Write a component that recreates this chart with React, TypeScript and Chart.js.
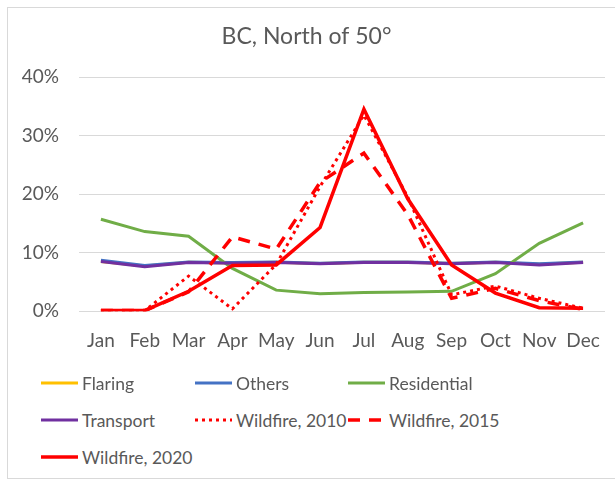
import React, { useEffect, useRef } from "react";
import { Chart, registerables } from "chart.js";

Chart.register(...registerables);

const months = ["Jan", "Feb", "Mar", "Apr", "May", "Jun", "Jul", "Aug", "Sep", "Oct", "Nov", "Dec"];
const yTicks = [0, 10, 20, 30, 40];

const flaring = [8.5, 7.7, 8.35, 8.25, 8.35, 8.15, 8.35, 8.35, 8.15, 8.35, 8.0, 8.35];
const others = [8.7, 7.8, 8.4, 8.3, 8.4, 8.2, 8.4, 8.4, 8.2, 8.4, 8.1, 8.4];
const residential = [15.7, 13.6, 12.8, 7.3, 3.6, 3.0, 3.2, 3.3, 3.4, 6.4, 11.6, 15.1];
const transport = [8.5, 7.6, 8.3, 8.2, 8.3, 8.1, 8.3, 8.3, 8.1, 8.3, 7.9, 8.3];
const wildfire2010 = [0.1, 0.1, 6.0, 0.4, 8.0, 21.3, 33.5, 19.5, 2.8, 4.3, 2.2, 0.5];
const wildfire2015 = [0.1, 0.1, 3.3, 12.7, 10.6, 22.0, 27.0, 16.5, 2.2, 3.9, 1.8, 0.3];
const wildfire2020 = [0.1, 0.1, 3.4, 7.8, 7.9, 14.3, 34.5, 19.2, 7.9, 3.1, 0.6, 0.5];

const FONT = "Lato";
const TEXT = "#595959";

type Series = { label: string; data: number[]; color: string; width: number; dash: number[] };

const series: Series[] = [
  { label: "Flaring", data: flaring, color: "#FFC000", width: 3, dash: [] },
  { label: "Others", data: others, color: "#4472C4", width: 3, dash: [] },
  { label: "Residential", data: residential, color: "#70AD47", width: 3, dash: [] },
  { label: "Transport", data: transport, color: "#7030A0", width: 3, dash: [] },
  { label: "Wildfire, 2010", data: wildfire2010, color: "#FF0000", width: 3, dash: [3, 4] },
  { label: "Wildfire, 2015", data: wildfire2015, color: "#FF0000", width: 3.5, dash: [12, 9] },
  { label: "Wildfire, 2020", data: wildfire2020, color: "#FF0000", width: 3.5, dash: [] },
];

const legendCols = [33, 187, 340];
const legendRows = [375, 412, 449];

export default function App() {
  const ref = useRef<HTMLCanvasElement | null>(null);

  useEffect(() => {
    if (!ref.current) return;
    const chart = new Chart(ref.current, {
      type: "line",
      data: {
        labels: months,
        datasets: series.map((s, i) => ({
          label: s.label,
          data: s.data,
          borderColor: s.color,
          backgroundColor: s.color,
          borderWidth: s.width,
          borderDash: s.dash,
          pointRadius: 0,
          tension: 0,
          fill: false,
          order: series.length - i,
        })),
      },
      options: {
        responsive: false,
        animation: false,
        layout: { padding: { left: 0, right: 17, top: 0, bottom: 8 } },
        plugins: {
          legend: { display: false },
          tooltip: { enabled: false },
          title: {
            display: true,
            text: "BC, North of 50°",
            color: TEXT,
            font: { family: FONT, size: 23, weight: "normal" },
            padding: { top: 15, bottom: 26.4 },
          },
        },
        scales: {
          x: {
            offset: true,
            grid: { display: false, drawTicks: false },
            border: { display: false },
            ticks: {
              color: TEXT,
              font: { family: FONT, size: 19 },
              padding: 18,
              maxRotation: 0,
              autoSkip: false,
            },
          },
          y: {
            min: 0,
            max: 40,
            afterFit: (s: any) => {
              s.width = 71;
            },
            afterBuildTicks: (s: any) => {
              s.ticks = yTicks.map((v) => ({ value: v }));
            },
            grid: { color: "#d9d9d9", lineWidth: 1, drawTicks: false },
            border: { display: false },
            ticks: {
              color: TEXT,
              font: { family: FONT, size: 19 },
              padding: 20,
              callback: (v: any) => v + "%",
            },
          },
        },
      },
    });
    return () => chart.destroy();
  }, []);

  return (
    <div
      style={{
        position: "fixed",
        left: 7,
        top: 7,
        width: 640,
        height: 472,
        boxSizing: "border-box",
        border: "1px solid #d9d9d9",
        background: "#fff",
      }}
    >
      <canvas ref={ref} width={614} height={370} style={{ position: "absolute", left: 0, top: 0 }} />
      {series.map((s, i) => {
        const col = i % 3;
        const row = Math.floor(i / 3);
        return (
          <div
            key={s.label}
            style={{
              position: "absolute",
              left: legendCols[col],
              top: legendRows[row] - 12,
              height: 24,
              display: "flex",
              alignItems: "center",
              fontFamily: FONT,
              fontSize: 17.5,
              color: TEXT,
              whiteSpace: "nowrap",
            }}
          >
            <svg width={37} height={10} style={{ marginRight: 4 }}>
              <line
                x1={0}
                y1={5}
                x2={37}
                y2={5}
                stroke={s.color}
                strokeWidth={s.width}
                strokeDasharray={s.dash.length ? s.dash.join(",") : undefined}
              />
            </svg>
            <span>{s.label}</span>
          </div>
        );
      })}
    </div>
  );
}
